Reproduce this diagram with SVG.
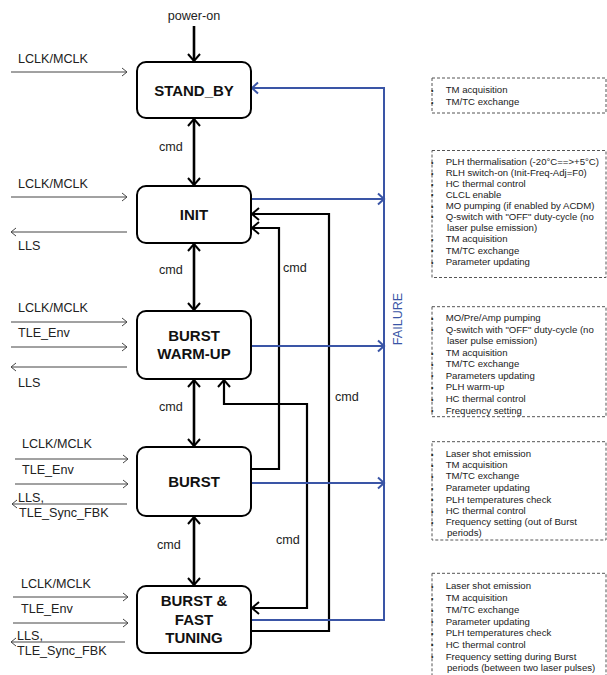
<svg xmlns="http://www.w3.org/2000/svg" width="607" height="675" viewBox="0 0 607 675">
<style>
.box{fill:#fff;stroke:#000;stroke-width:2}
.nt{font-family:"Liberation Sans",Arial,sans-serif;font-weight:bold;font-size:15px;fill:#111;text-anchor:middle}
.lb{font-family:"Liberation Sans",Arial,sans-serif;font-size:12.6px;fill:#222}
.rt{font-family:"Liberation Sans",Arial,sans-serif;font-size:9.6px;fill:#222}
.bul{font-family:"Liberation Sans",Arial,sans-serif;font-size:7px;fill:#222}
.dash{fill:none;stroke:#555;stroke-width:1;stroke-dasharray:3,2}
.k{fill:none;stroke:#000;stroke-width:2.2}
.kv{fill:none;stroke:#000;stroke-width:2.6}
.b{fill:none;stroke:#3a55a6;stroke-width:2}
.g{fill:none;stroke:#444;stroke-width:1}
.fail{font-family:"Liberation Sans",Arial,sans-serif;font-size:12.6px;fill:#3a55a6;text-anchor:middle}
</style>
<defs>
<marker id="ak" markerUnits="userSpaceOnUse" markerWidth="14" markerHeight="14" viewBox="0 0 14 14" refX="12" refY="7" orient="auto-start-reverse">
<path d="M5,1 L12,7 L5,13" fill="none" stroke="#000" stroke-width="2"/>
</marker>
<marker id="ab" markerUnits="userSpaceOnUse" markerWidth="14" markerHeight="14" viewBox="0 0 14 14" refX="12" refY="7" orient="auto-start-reverse">
<path d="M6,1.5 L12,7 L6,12.5" fill="none" stroke="#3a55a6" stroke-width="2"/>
</marker>
<marker id="ag" markerUnits="userSpaceOnUse" markerWidth="10" markerHeight="10" viewBox="0 0 10 10" refX="9" refY="5" orient="auto-start-reverse">
<path d="M4,1 L9,5 L4,9" fill="none" stroke="#444" stroke-width="1"/>
</marker>
</defs>
<rect width="607" height="675" fill="#fff"/>

<g id="connectors">
<!-- power-on -->
<line class="kv" x1="194" y1="26" x2="194" y2="61" marker-end="url(#ak)"/>
<!-- vertical cmd double arrows -->
<line class="kv" x1="194" y1="119" x2="194" y2="185" marker-start="url(#ak)" marker-end="url(#ak)"/>
<line class="kv" x1="194" y1="244" x2="194" y2="310" marker-start="url(#ak)" marker-end="url(#ak)"/>
<line class="kv" x1="194" y1="380" x2="194" y2="446" marker-start="url(#ak)" marker-end="url(#ak)"/>
<line class="kv" x1="194" y1="517" x2="194" y2="585" marker-start="url(#ak)" marker-end="url(#ak)"/>
<!-- cmd loops -->
<path class="k" d="M251,469 H279 V228 H252" marker-end="url(#ak)"/>
<path class="k" d="M251,631 H329 V214 H252" marker-end="url(#ak)"/>
<path class="k" d="M224,380 V404 H307 V608 H252" marker-start="url(#ak)" marker-end="url(#ak)"/>
<!-- failure lines -->
<path class="b" d="M251,620 H384 V88 H252" marker-end="url(#ab)"/>
<path class="b" d="M251,199 H384" marker-end="url(#ab)"/>
<path class="b" d="M251,346 H384" marker-end="url(#ab)"/>
<path class="b" d="M251,483 H384" marker-end="url(#ab)"/>
<!-- left inputs/outputs -->
<path class="g" d="M11,72 H127" marker-end="url(#ag)"/>
<path class="g" d="M11,197 H127" marker-end="url(#ag)"/>
<path class="g" d="M127,232 H11" marker-end="url(#ag)"/>
<path class="g" d="M11,322 H127" marker-end="url(#ag)"/>
<path class="g" d="M11,347 H127" marker-end="url(#ag)"/>
<path class="g" d="M127,367 H11" marker-end="url(#ag)"/>
<path class="g" d="M15,459 H128" marker-end="url(#ag)"/>
<path class="g" d="M15,484 H128" marker-end="url(#ag)"/>
<path class="g" d="M127,504 H12" marker-end="url(#ag)"/>
<path class="g" d="M13,597 H128" marker-end="url(#ag)"/>
<path class="g" d="M13,623 H128" marker-end="url(#ag)"/>
<path class="g" d="M125,642 H11" marker-end="url(#ag)"/>
</g>

<g id="labels">
<text class="lb" x="194" y="20" text-anchor="middle">power-on</text>
<text class="lb" x="159" y="151">cmd</text>
<text class="lb" x="159" y="274">cmd</text>
<text class="lb" x="159" y="411">cmd</text>
<text class="lb" x="157" y="549">cmd</text>
<text class="lb" x="283" y="272">cmd</text>
<text class="lb" x="335" y="401">cmd</text>
<text class="lb" x="276" y="544">cmd</text>
<text class="fail" transform="translate(401.5,319) rotate(-90)">FAILURE</text>
<text class="lb" x="18" y="63">LCLK/MCLK</text>
<text class="lb" x="18" y="188">LCLK/MCLK</text>
<text class="lb" x="18" y="250">LLS</text>
<text class="lb" x="18" y="312">LCLK/MCLK</text>
<text class="lb" x="18" y="337">TLE_Env</text>
<text class="lb" x="18" y="387">LLS</text>
<text class="lb" x="22" y="448">LCLK/MCLK</text>
<text class="lb" x="22" y="474">TLE_Env</text>
<text class="lb" x="18" y="502">LLS,</text>
<text class="lb" x="19" y="517">TLE_Sync_FBK</text>
<text class="lb" x="21" y="588">LCLK/MCLK</text>
<text class="lb" x="21" y="613">TLE_Env</text>
<text class="lb" x="17" y="640">LLS,</text>
<text class="lb" x="17" y="655">TLE_Sync_FBK</text>
</g>

<g id="standby">
<rect class="box" x="137" y="62" width="114" height="56" rx="9"/>
<text class="nt" x="194" y="95.5">STAND_BY</text>
</g>
<g id="init">
<rect class="box" x="137" y="186" width="114" height="57" rx="9"/>
<text class="nt" x="194" y="220">INIT</text>
</g>
<g id="burst-warmup">
<rect class="box" x="137" y="311" width="114" height="68" rx="9"/>
<text class="nt" x="194" y="340.5">BURST</text>
<text class="nt" x="194" y="358.8">WARM-UP</text>
</g>
<g id="burst">
<rect class="box" x="137" y="447" width="114" height="69" rx="9"/>
<text class="nt" x="194" y="486.5">BURST</text>
</g>
<g id="burst-fast-tuning">
<rect class="box" x="137" y="586" width="114" height="67" rx="9"/>
<text class="nt" x="194" y="606">BURST &amp;</text>
<text class="nt" x="194" y="624.7">FAST</text>
<text class="nt" x="194" y="643">TUNING</text>
</g>

<g id="desc-standby">
<rect class="dash" x="432" y="78" width="174" height="35"/>
<text class="bul" x="431" y="93">•</text><text class="rt" x="445.7" y="93.4">TM acquisition</text>
<text class="bul" x="431" y="104.5">•</text><text class="rt" x="445.7" y="105">TM/TC exchange</text>
</g>
<g id="desc-init">
<rect class="dash" x="432" y="150.5" width="174" height="127"/>
<g class="rt">
<text x="445.7" y="165.4">PLH thermalisation (-20°C==&gt;+5°C)</text>
<text x="445.7" y="176.4">RLH switch-on (Init-Freq-Adj=F0)</text>
<text x="445.7" y="187">HC thermal control</text>
<text x="445.7" y="197.7">CLCL enable</text>
<text x="445.7" y="209">MO pumping (if enabled by ACDM)</text>
<text x="445.7" y="219.7">Q-switch with "OFF" duty-cycle (no</text>
<text x="447" y="231">laser pulse emission)</text>
<text x="445.7" y="242.4">TM acquisition</text>
<text x="445.7" y="253.7">TM/TC exchange</text>
<text x="445.7" y="265">Parameter updating</text>
</g>
<g class="bul">
<text x="431" y="165">•</text><text x="431" y="176">•</text><text x="431" y="186.6">•</text><text x="431" y="197.3">•</text><text x="431" y="208.6">•</text><text x="431" y="219.3">•</text><text x="431" y="242">•</text><text x="431" y="253.3">•</text><text x="431" y="264.6">•</text>
</g>
</g>
<g id="desc-warmup">
<rect class="dash" x="432" y="306.7" width="174" height="110"/>
<g class="rt">
<text x="445.7" y="321">MO/Pre/Amp pumping</text>
<text x="445.7" y="332.7">Q-switch with "OFF" duty-cycle (no</text>
<text x="447" y="344.4">laser pulse emission)</text>
<text x="445.7" y="356.4">TM acquisition</text>
<text x="445.7" y="367">TM/TC exchange</text>
<text x="445.7" y="378.7">Parameters updating</text>
<text x="445.7" y="390.4">PLH warm-up</text>
<text x="445.7" y="402">HC thermal control</text>
<text x="445.7" y="413.7">Frequency setting</text>
</g>
<g class="bul">
<text x="431" y="320.6">•</text><text x="431" y="332.3">•</text><text x="431" y="356">•</text><text x="431" y="366.6">•</text><text x="431" y="378.3">•</text><text x="431" y="390">•</text><text x="431" y="401.6">•</text><text x="431" y="413.3">•</text>
</g>
</g>
<g id="desc-burst">
<rect class="dash" x="432" y="441.7" width="174" height="98.3"/>
<g class="rt">
<text x="445.7" y="457">Laser shot emission</text>
<text x="445.7" y="468">TM acquisition</text>
<text x="445.7" y="479.4">TM/TC exchange</text>
<text x="445.7" y="491.4">Parameter updating</text>
<text x="445.7" y="502.7">PLH temperatures check</text>
<text x="445.7" y="514">HC thermal control</text>
<text x="445.7" y="525.4">Frequency setting (out of Burst</text>
<text x="447" y="536.4">periods)</text>
</g>
<g class="bul">
<text x="431" y="456.6">•</text><text x="431" y="467.6">•</text><text x="431" y="479">•</text><text x="431" y="491">•</text><text x="431" y="502.3">•</text><text x="431" y="513.6">•</text><text x="431" y="525">•</text>
</g>
</g>
<g id="desc-fast-tuning">
<rect class="dash" x="432" y="573.3" width="174" height="110"/>
<g class="rt">
<text x="445.7" y="589.4">Laser shot emission</text>
<text x="445.7" y="601">TM acquisition</text>
<text x="445.7" y="613">TM/TC exchange</text>
<text x="445.7" y="624.7">Parameter updating</text>
<text x="445.7" y="636">PLH temperatures check</text>
<text x="445.7" y="647.7">HC thermal control</text>
<text x="445.7" y="659.7">Frequency setting during Burst</text>
<text x="447" y="671.4">periods (between two laser pulses)</text>
</g>
<g class="bul">
<text x="431" y="589">•</text><text x="431" y="600.6">•</text><text x="431" y="612.6">•</text><text x="431" y="624.3">•</text><text x="431" y="635.6">•</text><text x="431" y="647.3">•</text><text x="431" y="659.3">•</text>
</g>
</g>
</svg>
